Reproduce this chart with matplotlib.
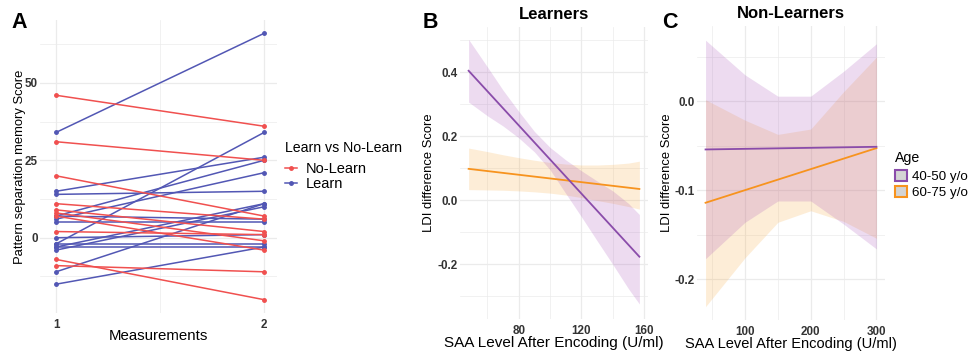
#!/usr/bin/env python3

import matplotlib
matplotlib.use('Agg')
import matplotlib.pyplot as plt
from matplotlib.lines import Line2D
from matplotlib.patches import Patch

plt.rcParams['font.family'] = 'Liberation Sans'
plt.rcParams['axes.unicode_minus'] = False

# Panel A: scores at measurement 1 and 2
meas = [1, 2]
learn_t1 = [34, 15, 14, 7, 6, 5, -2, -3, -4, 0, -3, -11, -15, -2, 7]
learn_t2 = [66, 26, 15, 25, 21, 5, 34, 11, 10, 1, -3, 11, -3, -2, 6]
nolearn_t1 = [46, 31, 20, 11, 9, 8, 7, 2, -7, -9]
nolearn_t2 = [36, 25, 7, 6, 2, -1, -4, 1, -20, -11]

# Panel B: Learners, fitted lines and confidence bands
b_line_x = [48, 157]
b_young_fit = [0.405, -0.177]
b_old_fit = [0.098, 0.035]
b_x = [48, 60, 70, 80, 90, 100, 110, 120, 130, 140, 150, 157]
b_young_lo = [0.307, 0.264, 0.232, 0.195, 0.151, 0.095, 0.021, -0.052, -0.127, -0.201, -0.277, -0.325]
b_young_hi = [0.503, 0.417, 0.344, 0.278, 0.215, 0.165, 0.126, 0.092, 0.060, 0.029, -0.010, -0.045]
b_old_lo = [0.033, 0.032, 0.031, 0.029, 0.026, 0.022, 0.016, 0.008, -0.001, -0.010, -0.020, -0.028]
b_old_hi = [0.163, 0.152, 0.142, 0.133, 0.125, 0.118, 0.113, 0.110, 0.110, 0.112, 0.116, 0.122]

# Panel C: Non-Learners
c_line_x = [40, 300]
c_young_fit = [-0.054, -0.051]
c_old_fit = [-0.114, -0.0525]
c_x = [40, 100, 150, 200, 250, 300]
c_young_lo = [-0.177, -0.136, -0.112, -0.112, -0.138, -0.166]
c_young_hi = [0.069, 0.030, 0.006, 0.006, 0.034, 0.065]
c_old_lo = [-0.231, -0.176, -0.136, -0.123, -0.135, -0.154]
c_old_hi = [0.002, -0.021, -0.037, -0.031, 0.011, 0.050]

RED = '#f0504f'
BLUE = '#5257b4'
PURPLE = '#8a4caa'
ORANGE = '#f7931e'
PURPLE_FILL = '#a54fb8'
ORANGE_FILL = '#f7a83a'
GRID = '#ebebeb'
TICK = '#333333'


def style_axes(ax):
    '''
    ggplot theme_minimal look
    '''
    for s in ax.spines.values():
        s.set_visible(False)
    ax.grid(True, which='major', color=GRID, lw=0.9)
    ax.grid(True, which='minor', color=GRID, lw=0.5)
    ax.set_axisbelow(True)
    ax.tick_params(which='both', length=0, labelsize=8.4, labelcolor=TICK)
    ax.tick_params(axis='y', pad=1.5)
    ax.tick_params(axis='x', pad=4)
    for lab in ax.get_xticklabels() + ax.get_yticklabels():
        lab.set_fontweight('bold')


fig = plt.figure(figsize=(9.77, 3.52), dpi=100)
W, H = 977, 352


def add_axes(l, t, r, b):
    return fig.add_axes([l / W, 1 - b / H, (r - l) / W, (b - t) / H])


# ---- A ----
axA = add_axes(40, 20, 277, 313)
for y1, y2 in zip(learn_t1, learn_t2):
    axA.plot(meas, [y1, y2], color=BLUE, lw=1.1, marker='o', ms=2.5)
for y1, y2 in zip(nolearn_t1, nolearn_t2):
    axA.plot(meas, [y1, y2], color=RED, lw=1.1, marker='o', ms=2.5)
axA.set_xlim(0.923, 2.062)
axA.set_ylim(-24.3, 70.3)
axA.set_xticks([1, 2])
axA.set_xticks([1.5], minor=True)
axA.set_yticks([0, 25, 50])
axA.set_yticks([-12.5, 12.5, 37.5, 62.5], minor=True)
style_axes(axA)
axA.set_xlabel('Measurements', fontsize=10.8)
axA.set_ylabel('Pattern separation memory Score', fontsize=9.4)
axA.xaxis.set_label_coords(0.5, -0.055)
axA.yaxis.set_label_coords(-0.06, 0.5)

# ---- B ----
axB = add_axes(460, 27, 648, 319)
axB.fill_between(b_x, b_old_lo, b_old_hi, color=ORANGE_FILL, alpha=0.2, lw=0)
axB.fill_between(b_x, b_young_lo, b_young_hi, color=PURPLE_FILL, alpha=0.2, lw=0)
axB.plot(b_line_x, b_old_fit, color=ORANGE, lw=1.3)
axB.plot(b_line_x, b_young_fit, color=PURPLE, lw=1.3)
axB.set_xlim(42.5, 162.5)
axB.set_ylim(-0.372, 0.542)
axB.set_xticks([80, 120, 160])
axB.set_xticks([60, 100, 140], minor=True)
axB.set_yticks([-0.2, 0.0, 0.2, 0.4])
axB.set_yticks([-0.3, -0.1, 0.1, 0.3, 0.5], minor=True)
axB.set_yticklabels(['-0.2', '0.0', '0.2', '0.4'])
style_axes(axB)
axB.set_title('Learners', fontsize=12, fontweight='bold', pad=6)
axB.set_xlabel('SAA Level After Encoding (U/ml)', fontsize=11)
axB.set_ylabel('LDI difference Score', fontsize=9.4)
axB.xaxis.set_label_coords(0.5, -0.058)
axB.yaxis.set_label_coords(-0.133, 0.5)

# ---- C ----
axC = add_axes(697, 26, 885, 320)
axC.fill_between(c_x, c_old_lo, c_old_hi, color=ORANGE_FILL, alpha=0.2, lw=0)
axC.fill_between(c_x, c_young_lo, c_young_hi, color=PURPLE_FILL, alpha=0.2, lw=0)
axC.plot(c_line_x, c_old_fit, color=ORANGE, lw=1.3)
axC.plot(c_line_x, c_young_fit, color=PURPLE, lw=1.3)
axC.set_xlim(27, 313)
axC.set_ylim(-0.246, 0.085)
axC.set_xticks([100, 200, 300])
axC.set_xticks([50, 150, 250], minor=True)
axC.set_yticks([-0.2, -0.1, 0.0])
axC.set_yticks([-0.15, -0.05, 0.05], minor=True)
axC.set_yticklabels(['-0.2', '-0.1', '0.0'])
style_axes(axC)
axC.set_title('Non-Learners', fontsize=12, fontweight='bold', pad=6)
axC.set_xlabel('SAA Level After Encoding (U/ml)', fontsize=10.5)
axC.set_ylabel('LDI difference Score', fontsize=9.4)
axC.xaxis.set_label_coords(0.5, -0.058)
axC.yaxis.set_label_coords(-0.128, 0.5)

# panel letters
for x, letter in [(11, 'A'), (423, 'B'), (662, 'C')]:
    fig.text(x / W, 1 - 28 / H, letter, fontsize=15.5, fontweight='bold')

# legends (titles placed by hand for the ggplot spacing)
fig.text(285 / W, 1 - 148 / H, 'Learn vs No-Learn', fontsize=10.2, va='center')
h_learn = [Line2D([], [], color=RED, lw=1.1, marker='o', ms=2.5),
           Line2D([], [], color=BLUE, lw=1.1, marker='o', ms=2.5)]
fig.legend(h_learn, ['No-Learn', 'Learn'],
           loc='upper left', bbox_to_anchor=(285 / W, 1 - 162 / H),
           frameon=False, fontsize=10.5,
           handlelength=0.8, handletextpad=0.6, labelspacing=0.05,
           borderpad=0, borderaxespad=0)

fig.text(895 / W, 1 - 158 / H, 'Age', fontsize=10.2, va='center')
h_age = [Patch(facecolor='#d4d4d4', edgecolor=PURPLE, lw=1.5),
         Patch(facecolor='#d4d4d4', edgecolor=ORANGE, lw=1.5)]
fig.legend(h_age, ['40-50 y/o', '60-75 y/o'],
           loc='upper left', bbox_to_anchor=(895 / W, 1 - 170 / H),
           frameon=False, fontsize=9.6,
           handlelength=0.9, handleheight=0.9, handletextpad=0.4,
           labelspacing=0.2, borderpad=0, borderaxespad=0)

fig.savefig('out.png', dpi=100)
